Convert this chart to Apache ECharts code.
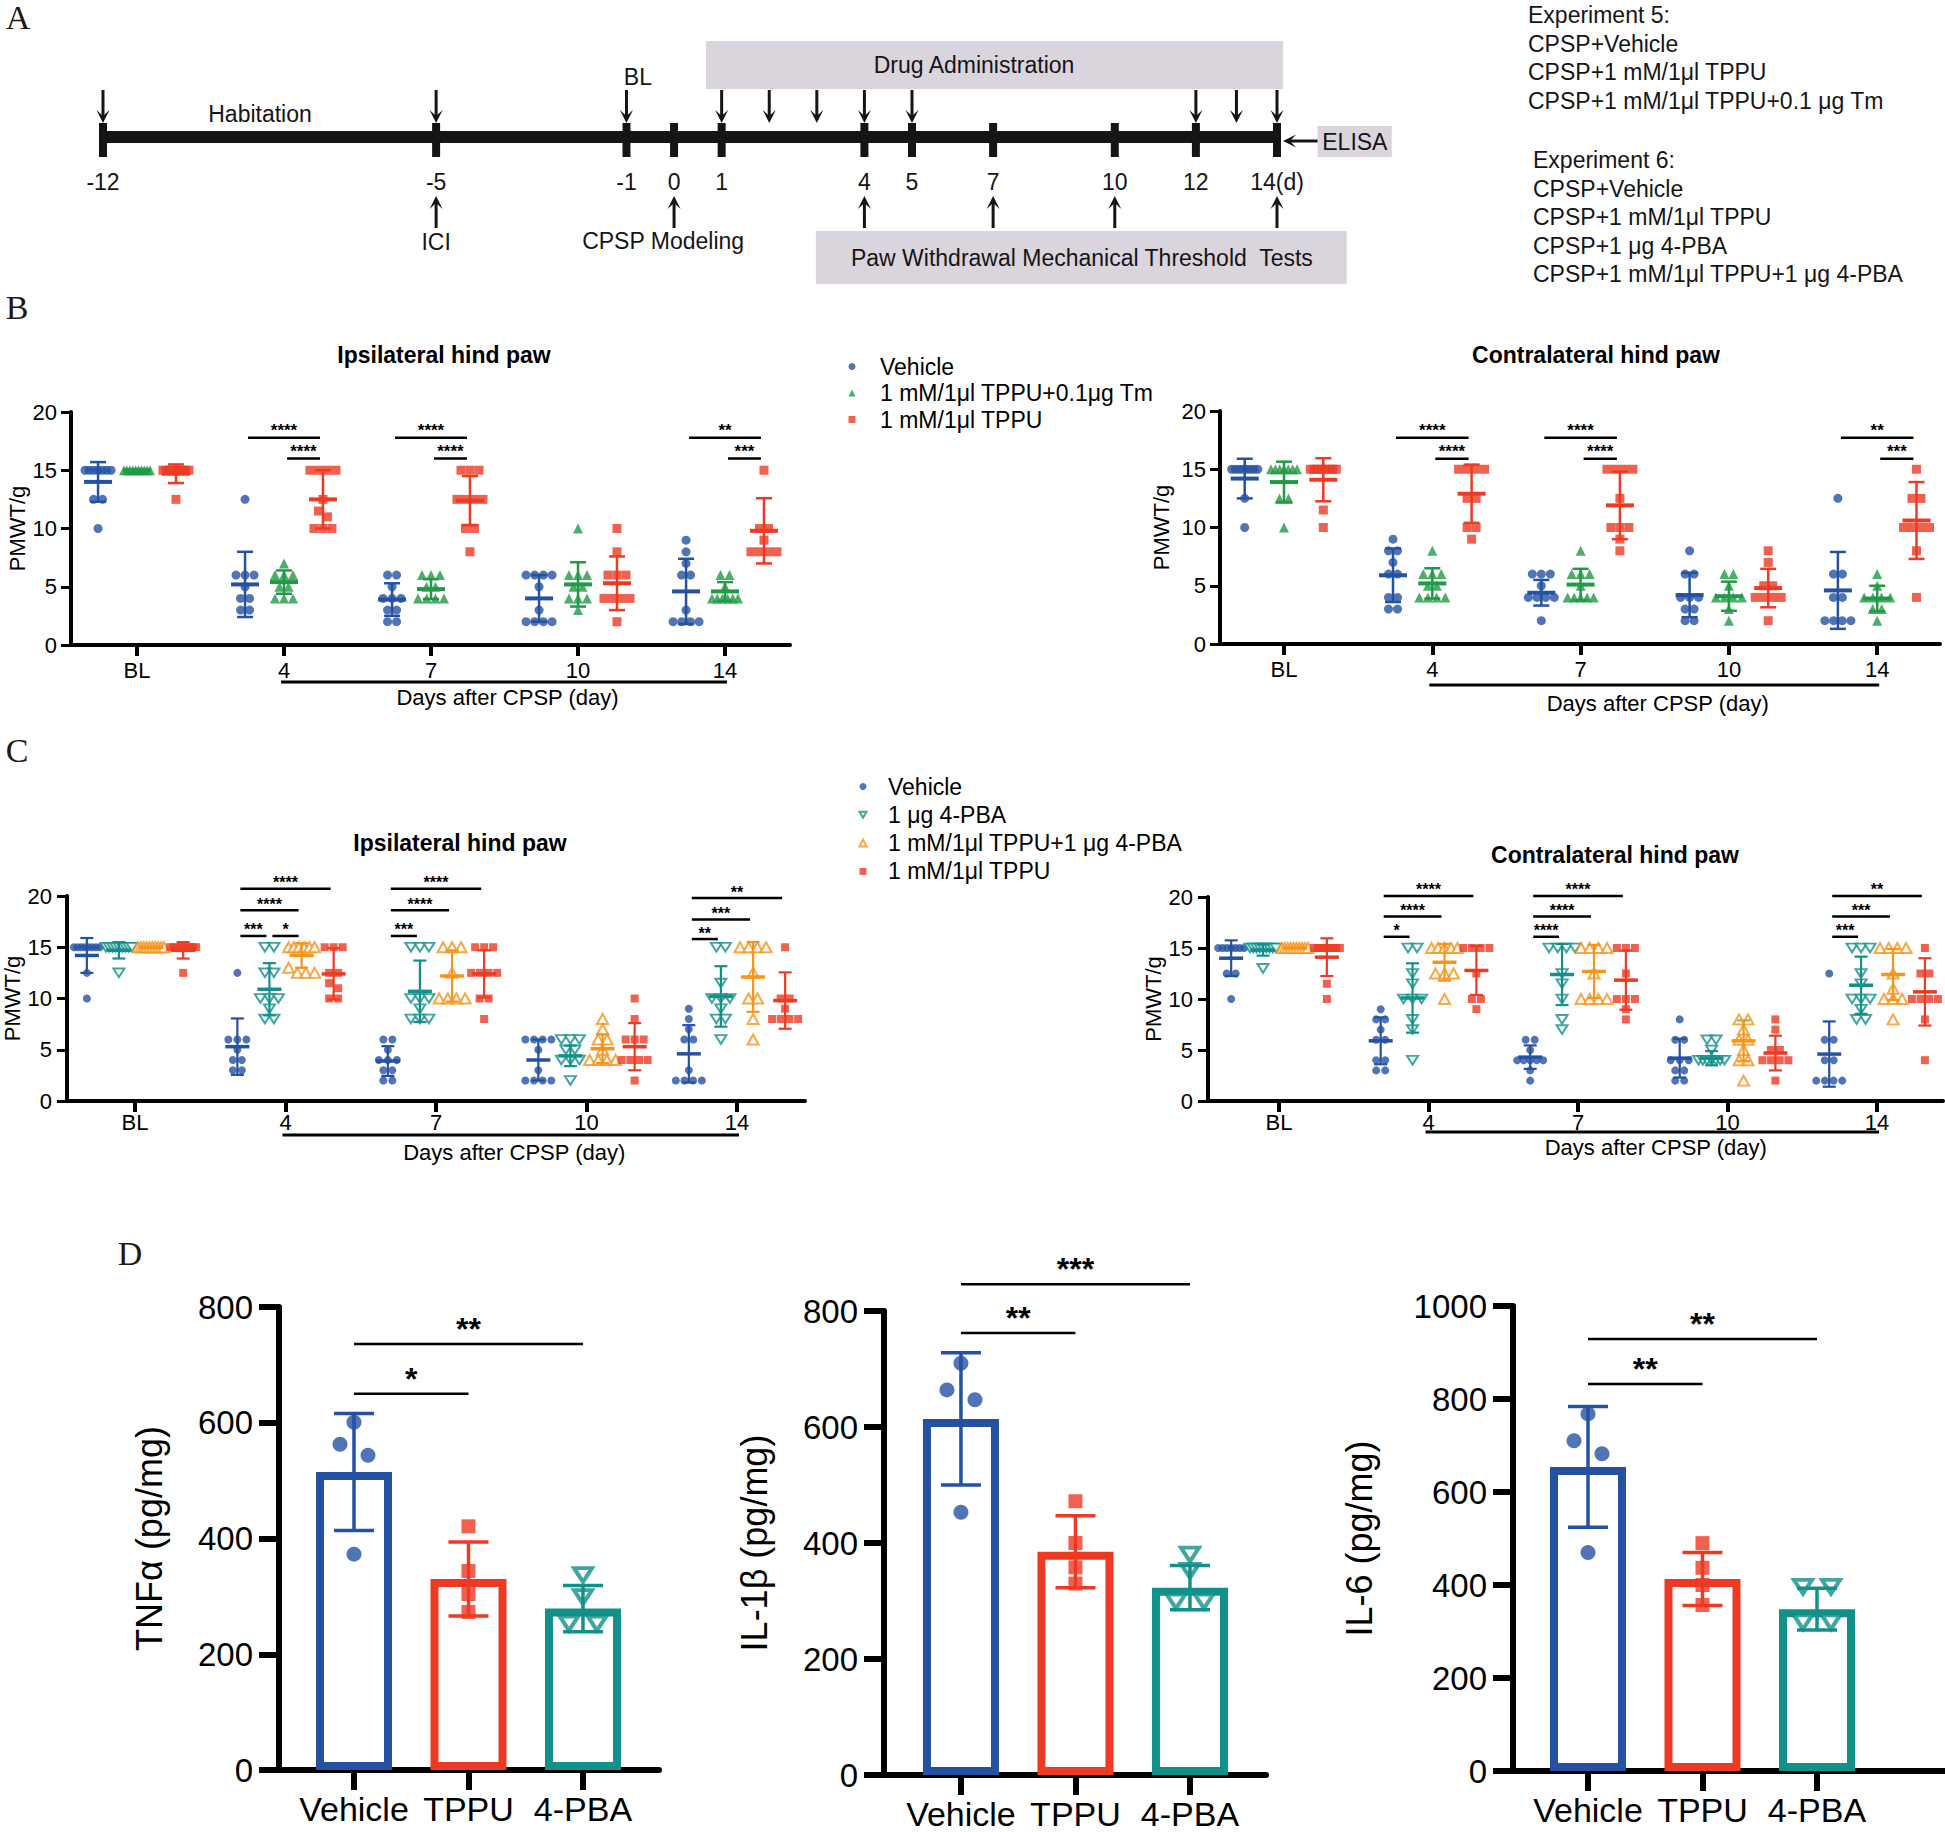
<!DOCTYPE html>
<html>
<head>
<meta charset="utf-8">
<title>CPSP figure</title>
<script src="https://cdn.jsdelivr.net/npm/echarts@6.0.0/dist/echarts.min.js"></script>
<style>
html,body{margin:0;padding:0;background:#fff;}
#chart{width:1945px;height:1832px;}
</style>
</head>
<body>
<div id="chart"></div>
<script>
// ======================= DATA =======================
// ---- Panel A : experimental timeline (days, drawn on a two-piece schematic scale) ----
const tlSegments      = [[-12, 5], [5, 14]];
const tlTickDays      = [-12, -5, -1, 0, 1, 4, 5, 7, 10, 12, 14];
const tlTickLabels    = ['-12', '-5', '-1', '0', '1', '4', '5', '7', '10', '12', '14(d)'];
const tlDownArrowDays = [-12, -5, -1, 1, 2, 3, 4, 5, 12, 13, 14];
const tlUpArrowDays   = [-5, 0, 4, 7, 10, 14];
const tlNoteText = ['Habitation', 'BL', 'ICI', 'CPSP Modeling'];
const tlNoteDay  = [-8.7, -0.76, -5, -0.23];
const tlBoxText    = ['Drug Administration', 'Paw Withdrawal Mechanical Threshold  Tests', 'ELISA'];
const tlBoxFrom    = [0.67, 2.98, 15.0];
const tlBoxTo      = [14.15, 15.72, 16.83];
const tlBoxTextDay = [6.53, 9.19, 15.92];
const tlElisaArrow = [15.0, 14.15];
const exp5Lines = ['Experiment 5:', 'CPSP+Vehicle', 'CPSP+1 mM/1μl TPPU', 'CPSP+1 mM/1μl TPPU+0.1 μg Tm'];
const exp6Lines = ['Experiment 6:', 'CPSP+Vehicle', 'CPSP+1 mM/1μl TPPU', 'CPSP+1 μg 4-PBA', 'CPSP+1 mM/1μl TPPU+1 μg 4-PBA'];

// ---- Panels B / C : PMWT (g) ----
const dayCats = ['BL', '4', '7', '10', '14'];
const daysSpanCats = ['4', '14'];
const daysAxisTitle = 'Days after CPSP (day)';
const pmwtName = 'PMWT/g';
const exp5Groups = ['Vehicle', '1 mM/1μl TPPU+0.1μg Tm', '1 mM/1μl TPPU'];
const exp6Groups = ['Vehicle', '1 μg 4-PBA', '1 mM/1μl TPPU+1 μg 4-PBA', '1 mM/1μl TPPU'];
const titleIpsi = 'Ipsilateral hind paw';
const titleContra = 'Contralateral hind paw';

// B – ipsilateral (experiment 5)
const bIpsiVeh = [[15,15,15,15,15,15,15,12.5,12.5,10],[12.5,6,6,6,5,4,4,3,3],[6,6,5,4,4,4,3,3,2,2],[6,6,6,6,5,3,2,2,2,2],[9,8,7,6,6,3,2,2,2,2]];
const bIpsiVehMean = [14.0, 5.2, 3.9, 4.0, 4.6];
const bIpsiVehSD   = [1.7, 2.8, 1.4, 2.0, 2.8];
const bIpsiTm = [[15,15,15,15,15,15,15,15,15,15],[7,6,6,6,5,5,4,4,4],[6,6,6,5,5,4,4,4,4],[10,6,6,6,5,5,4,4,4,3],[6,6,5,4,4,4,4,4,4]];
const bIpsiTmMean = [15.0, 5.4, 4.8, 5.2, 4.6];
const bIpsiTmSD   = [0, 1.0, 0.85, 1.9, 0.8];
const bIpsiTppu = [[15,15,15,15,15,15,15,15,15,12.5],[15,15,15,15,12.5,11.5,11,10,10,10],[15,15,15,12.5,12.5,12.5,12.5,10,10,8],[10,8,6,6,6,4,4,4,4,2],[15,10,10,9,8,8,8,8]];
const bIpsiTppuMean = [14.7, 12.5, 12.4, 5.3, 9.8];
const bIpsiTppuSD   = [0.8, 2.5, 2.1, 2.3, 2.8];
const bIpsiSig = [[1,0,2,17.8,'****'],[1,1,2,16.0,'****'],[2,0,2,17.8,'****'],[2,1,2,16.0,'****'],[4,0,2,17.8,'**'],[4,1,2,16.0,'***']];

// B – contralateral (experiment 5)
const bConVeh = [[15,15,15,15,15,15,15,15,12.5,10],[9,8,8,7,6,6,4,4,3,3],[6,6,6,5,4,4,4,4,2],[8,6,6,4,4,4,3,3,2,2],[12.5,6,6,4,4,2,2,2,2]];
const bConVehMean = [14.2, 5.9, 4.4, 4.2, 4.6];
const bConVehSD   = [1.7, 2.3, 1.1, 1.9, 3.3];
const bConTm = [[15,15,15,15,15,15,15,12.5,12.5,10],[8,6,6,6,5,5,4,4,4,4],[8,6,6,6,5,4,4,4,4,4],[6,6,5,4,4,4,4,3,2],[6,5,4,4,4,4,3,3,2]];
const bConTmMean = [13.9, 5.2, 5.1, 4.1, 3.9];
const bConTmSD   = [1.75, 1.3, 1.35, 1.25, 1.1];
const bConTppu = [[15,15,15,15,15,15,15,15,11.5,10],[15,15,15,15,12.5,12.5,10,10,9],[15,15,15,15,12.5,10,10,10,9,8],[8,7,5,5,4,4,4,4,2],[15,12.5,12.5,10,10,10,10,8,4]];
const bConTppuMean = [14.1, 12.9, 11.9, 4.8, 10.6];
const bConTppuSD   = [1.85, 2.5, 2.9, 1.65, 3.3];
const bConSig = [[1,0,2,17.7,'****'],[1,1,2,15.9,'****'],[2,0,2,17.7,'****'],[2,1,2,15.9,'****'],[4,0,2,17.7,'**'],[4,1,2,15.9,'***']];

// C – ipsilateral (experiment 6)
const cIpsiVeh = [[15,15,15,15,15,15,15,15,12.5,10],[12.5,6,6,6,5,4,4,3,3],[6,6,5,4,4,4,3,3,2,2],[6,6,6,6,5,3,2,2,2,2],[9,8,7,6,6,3,2,2,2,2]];
const cIpsiVehMean = [14.2, 5.3, 3.9, 4.0, 4.6];
const cIpsiVehSD   = [1.7, 2.75, 1.45, 2.0, 2.8];
const cIpsiPba = [[15,15,15,15,15,15,15,15,15,12.5],[15,15,12.5,12.5,10,10,10,9,8,8],[15,15,15,10,10,10,9,8,8,8],[6,6,6,5,5,4,4,4,2],[15,15,11.5,10,10,10,9,8,8,6]];
const cIpsiPbaMean = [14.7, 10.9, 10.7, 4.4, 10.2];
const cIpsiPbaSD   = [0.8, 2.55, 3.0, 1.0, 2.95];
const cIpsiCombo = [[15,15,15,15,15,15,15,15,15,15],[15,15,15,15,15,15,13,12.5,12.5,12.5],[15,15,15,12.5,10,10,10,10],[8,7,6,6,5,4,4,4,4],[15,15,15,15,12.5,10,10,8,6]];
const cIpsiComboMean = [15.0, 14.2, 12.2, 5.1, 12.1];
const cIpsiComboSD   = [0, 1.2, 2.5, 1.4, 3.4];
const cIpsiTppu = [[15,15,15,15,15,15,15,15,15,12.5],[15,15,15,12.5,12.5,11.5,11,10,10],[15,15,15,12.5,12.5,12.5,12.5,10,10,8],[10,8,6,6,6,4,4,4,4,2],[15,10,10,9,8,8,8,8]];
const cIpsiTppuMean = [14.7, 12.4, 12.4, 5.3, 9.8];
const cIpsiTppuSD   = [0.8, 2.5, 2.3, 2.3, 2.75];
const cIpsiSig = [[1,0,3,20.7,'****'],[1,0,2,18.6,'****'],[1,0,1,16.1,'***'],[1,1,2,16.1,'*'],[2,0,3,20.7,'****'],[2,0,2,18.6,'****'],[2,0,1,16.1,'***'],[4,0,3,19.8,'**'],[4,0,2,17.7,'***'],[4,0,1,15.8,'**']];

// C – contralateral (experiment 6)
const cConVeh = [[15,15,15,15,15,15,15,12.5,12.5,10],[9,8,8,7,6,6,4,4,3,3],[6,6,5,4,4,4,4,4,3,2],[8,6,6,4,4,4,3,3,2,2],[12.5,6,6,4,4,2,2,2,2]];
const cConVehMean = [14.0, 5.9, 4.3, 4.2, 4.6];
const cConVehSD   = [1.75, 2.3, 1.15, 1.9, 3.2];
const cConPba = [[15,15,15,15,15,15,15,15,15,13],[15,15,12.5,11.5,10,10,10,8,7,4],[15,15,15,15,12.5,11.5,10,8,7],[6,6,5,4,4,4,4,4,4,4],[15,15,15,12.5,11.5,10,10,10,9,8,8]];
const cConPbaMean = [14.8, 10.1, 12.4, 4.2, 11.35];
const cConPbaSD   = [0.55, 3.4, 3.0, 0.7, 2.8];
const cConCombo = [[15,15,15,15,15,15,15,15,15,15],[15,15,15,15,15,12.5,12.5,12.5,10],[15,15,15,15,12.5,10,10,10,10],[8,8,7,6,6,5,4,4,2],[15,15,15,15,12.5,11,10,10,10,8]];
const cConComboMean = [15.0, 13.6, 12.7, 5.9, 12.4];
const cConComboSD   = [0, 1.8, 2.6, 2.0, 2.5];
const cConTppu = [[15,15,15,15,15,15,15,15,11.5,10],[15,15,15,15,12.5,10,10,9],[15,15,15,12.5,10,10,10,9,8],[8,7,5,5,4,4,4,4,2],[15,12.5,12.5,10,10,10,10,8,4]];
const cConTppuMean = [14.1, 12.8, 11.85, 4.7, 10.7];
const cConTppuSD   = [1.85, 2.4, 2.9, 1.7, 3.3];
const cConSig = [[1,0,3,20.1,'****'],[1,0,2,18.1,'****'],[1,0,1,16.1,'*'],[2,0,3,20.1,'****'],[2,0,2,18.1,'****'],[2,0,1,16.1,'****'],[4,0,3,20.1,'**'],[4,0,2,18.1,'***'],[4,0,1,16.1,'***']];

// ---- Panel D : ELISA (pg/mg) ----
const dCats = ['Vehicle', 'TPPU', '4-PBA'];
const tnfName = 'TNFα (pg/mg)';
const tnfDots = [[601,563,544,373],[421,344,304,273],[337,299,253,253]];
const tnfMean = [515, 330, 279];
const tnfSD   = [101, 64, 40];
const tnfSig  = [[0,1,650,'*'],[0,2,736,'**']];
const il1bName = 'IL-1β (pg/mg)';
const il1bDots = [[710,664,647,453],[472,400,358,330],[380,352,299,299]];
const il1bMean = [614, 385, 323];
const il1bSD   = [114, 62, 38];
const il1bSig  = [[0,1,762,'**'],[0,2,846,'***']];
const il6Name = 'IL-6 (pg/mg)';
const il6Dots = [[768,710,682,470],[490,437,400,357],[396,396,320,320]];
const il6Mean = [654, 413, 348];
const il6SD   = [130, 57, 45];
const il6Sig  = [[0,1,832,'**'],[0,2,929,'**']];

// ======================= STYLE / LAYOUT =======================
const FONT = '"Liberation Sans", Arial, Helvetica, sans-serif';
const SERIF = '"Liberation Serif", "Times New Roman", serif';
const INK = '#151515';
const C_BLUE = '#2451a2', C_GREEN = '#1f9a45', C_RED = '#ee3a23', C_TEAL = '#12908a', C_ORANGE = '#f7941d';
const DOWN_TRI = 'path://M0,0L10,0L5,8.66Z';
const TL_SEG_GRIDS = [{left:103, top:37, width:809, height:200}, {left:912, top:37, width:365, height:200}];
const TL_NOTE_DY = [-23, -60, 105, 104];
const TL_BOX_LAYOUT = [{dy:-96, h:48}, {dy:94, h:53}, {dy:-11, h:31}];
const CAT_IDX = dayCats.map((c, i) => i);

const SYM5 = [
  {symbol:'circle', size:9, itemStyle:{color:C_BLUE}},
  {symbol:'triangle', size:10, itemStyle:{color:C_GREEN}},
  {symbol:'rect', size:9, itemStyle:{color:C_RED}}
];
const SYM6 = [
  {symbol:'circle', size:8, itemStyle:{color:C_BLUE}},
  {symbol:DOWN_TRI, size:[11,10], itemStyle:{color:'#fff', borderColor:C_TEAL, borderWidth:2}},
  {symbol:'triangle', size:[11,10], itemStyle:{color:'#fff', borderColor:C_ORANGE, borderWidth:2}},
  {symbol:'rect', size:8, itemStyle:{color:C_RED}}
];
const D_COLORS = [C_BLUE, C_RED, C_TEAL];
const D_SYM = [
  {symbol:'circle', size:15, itemStyle:{color:C_BLUE}},
  {symbol:'rect', size:14, itemStyle:{color:C_RED}},
  {symbol:DOWN_TRI, size:[18,16], itemStyle:{color:'#fff', borderColor:C_TEAL, borderWidth:4}}
];

// ======================= HELPERS =======================
function T(text, x, y, font, fill, align, va) {
  return {type:'text', silent:true, style:{text:text, x:x, y:y, font:font, fill:fill,
    align:align || 'left', verticalAlign:va || 'middle', textAlign:align || 'left', textVerticalAlign:va || 'middle'}};
}
function arrowEls(x1, y1, x2, y2, c) {
  const dx = x2 - x1, dy = y2 - y1, len = Math.hypot(dx, dy) || 1;
  const ux = dx / len, uy = dy / len, px = -uy, py = ux;
  const hl = 13, hw = 6.5, nt = 7;
  return [
    {type:'line', shape:{x1:x1, y1:y1, x2:x2 - ux * nt, y2:y2 - uy * nt}, style:{stroke:c, lineWidth:3}},
    {type:'polygon', shape:{points:[[x2, y2], [x2 - ux * hl + px * hw, y2 - uy * hl + py * hw], [x2 - ux * nt, y2 - uy * nt], [x2 - ux * hl - px * hw, y2 - uy * hl - py * hw]]}, style:{fill:c}}
  ];
}
// spread points with (nearly) equal values sideways, like a column scatter plot
function swarm(values, center, yPpu, xPpu, tolPx, stepPx, maxWPx) {
  const s = values.slice().sort((a, b) => b - a);
  const out = [];
  let i = 0;
  while (i < s.length) {
    let j = i + 1;
    while (j < s.length && (s[j - 1] - s[j]) * yPpu < tolPx) j++;
    const k = j - i;
    const st = k > 1 ? Math.min(stepPx, maxWPx / (k - 1)) : 0;
    for (let t = 0; t < k; t++) out.push([center + ((t - (k - 1) / 2) * st) / xPpu, s[i + t]]);
    i = j;
  }
  return out;
}

const grids = [], xAxes = [], yAxes = [], series = [], graphics = [];

function meanSdSeries(gi, data, colors, o) {
  return {type:'custom', xAxisIndex:gi, yAxisIndex:gi, clip:false, silent:true, z:4, data:data,
    encode:{x:0, y:1},
    renderItem:function (params, api) {
      const x = api.value(0), m = api.value(1), s = api.value(2), c = colors[api.value(3)];
      const pm = api.coord([x, m]), pt = api.coord([x, m + s]), pb = api.coord([x, m - s]);
      const ch = [];
      if (s > 0) {
        ch.push({type:'line', shape:{x1:pm[0], y1:pt[1], x2:pm[0], y2:pb[1]}, style:{stroke:c, lineWidth:o.lw}});
        ch.push({type:'line', shape:{x1:pm[0] - o.cap / 2, y1:pt[1], x2:pm[0] + o.cap / 2, y2:pt[1]}, style:{stroke:c, lineWidth:o.lw}});
        ch.push({type:'line', shape:{x1:pm[0] - o.cap / 2, y1:pb[1], x2:pm[0] + o.cap / 2, y2:pb[1]}, style:{stroke:c, lineWidth:o.lw}});
      }
      if (o.meanW) ch.push({type:'line', shape:{x1:pm[0] - o.meanW / 2, y1:pm[1], x2:pm[0] + o.meanW / 2, y2:pm[1]}, style:{stroke:c, lineWidth:o.meanLw}});
      return {type:'group', children:ch};
    }};
}
function sigSeries(gi, list, xOf, fontPx, labelDy, lw, inset) {
  return {type:'custom', xAxisIndex:gi, yAxisIndex:gi, clip:false, silent:true, z:5,
    data:list.map((s) => [xOf(s, 0), s[s.length - 2]]),
    encode:{x:0, y:1},
    renderItem:function (params, api) {
      const s = list[params.dataIndex];
      const y = s[s.length - 2];
      const p1 = api.coord([xOf(s, 0), y]), p2 = api.coord([xOf(s, 1), y]);
      return {type:'group', children:[
        {type:'line', shape:{x1:p1[0] + inset, y1:p1[1], x2:p2[0] - inset, y2:p2[1]}, style:{stroke:'#000', lineWidth:lw}},
        T(s[s.length - 1], (p1[0] + p2[0]) / 2, p1[1] - labelDy, 'bold ' + fontPx + 'px ' + FONT, '#000', 'center')
      ]};
    }};
}
function daysBracketSeries(gi, L) {
  const a0 = dayCats.indexOf(daysSpanCats[0]), a1 = dayCats.indexOf(daysSpanCats[1]);
  return {type:'custom', xAxisIndex:gi, yAxisIndex:gi, clip:false, silent:true, data:[[a0, 0]],
    encode:{x:0, y:1},
    renderItem:function (params, api) {
      const a = api.coord([a0, 0]), b = api.coord([a1, 0]);
      return {type:'group', children:[
        {type:'line', shape:{x1:a[0] - 3, y1:a[1] + L.line, x2:b[0] + 2, y2:a[1] + L.line}, style:{stroke:'#000', lineWidth:3}},
        T(daysAxisTitle, (a[0] + b[0]) / 2 + 3, a[1] + L.text, '22px ' + FONT, '#000', 'center')
      ]};
    }};
}

function dotPanel(P) {
  const gi = grids.length;
  grids.push(P.grid);
  xAxes.push({gridIndex:gi, type:'value', min:P.xMin, max:P.xMax,
    axisLine:{show:true, onZero:false, lineStyle:{color:'#000', width:4}},
    axisTick:{show:true, customValues:CAT_IDX, length:11, lineStyle:{color:'#000', width:4}},
    axisLabel:{show:true, customValues:CAT_IDX, formatter:(v) => dayCats[Math.round(v)], color:'#000', fontSize:22, fontFamily:FONT, margin:P.xLabelMargin},
    splitLine:{show:false}});
  yAxes.push({gridIndex:gi, type:'value', min:0, max:20, interval:5,
    axisLine:{show:true, onZero:false, lineStyle:{color:'#000', width:4}},
    axisTick:{show:true, length:10, lineStyle:{color:'#000', width:3}},
    axisLabel:{color:'#000', fontSize:22, fontFamily:FONT, margin:P.yLabelMargin},
    splitLine:{show:false},
    name:pmwtName, nameLocation:'middle', nameGap:P.nameGap, nameTextStyle:{color:'#000', fontSize:22, fontFamily:FONT}});
  const xPpu = P.grid.width / (P.xMax - P.xMin), yPpu = P.grid.height / 20;
  const ms = [];
  P.values.forEach((groupVals, k) => {
    const sym = P.sym[k];
    const pts = [];
    groupVals.forEach((vals, c) => {
      pts.push(...swarm(vals, c + P.offsets[k], yPpu, xPpu, P.sw.tol, P.sw.step, P.sw.maxW));
      ms.push([c + P.offsets[k], P.means[k][c], P.sds[k][c], k]);
    });
    series.push({type:'scatter', name:P.names[k], xAxisIndex:gi, yAxisIndex:gi, data:pts,
      symbol:sym.symbol, symbolSize:sym.size, symbolKeepAspect:true, itemStyle:sym.itemStyle, z:2, silent:true});
  });
  series.push(meanSdSeries(gi, ms, P.colors, P.ms));
  series.push(sigSeries(gi, P.sig, (s, e) => s[0] + P.offsets[s[1 + e]], P.sigFont, P.sigDy, 2.5, 3));
  series.push(daysBracketSeries(gi, P.days));
  graphics.push(T(P.title, P.titlePos[0], P.titlePos[1], 'bold 23px ' + FONT, '#000', 'center'));
}

function barPanel(P) {
  const gi = grids.length;
  grids.push(P.grid);
  xAxes.push({gridIndex:gi, type:'value', min:P.xMin, max:P.xMax,
    axisLine:{show:true, onZero:false, lineStyle:{color:'#000', width:6}},
    axisTick:{show:true, customValues:[0, 1, 2], length:20, lineStyle:{color:'#000', width:6}},
    axisLabel:{show:true, customValues:[0, 1, 2], formatter:(v) => dCats[Math.round(v)], color:'#000', fontSize:34, fontFamily:FONT, margin:22},
    splitLine:{show:false}});
  yAxes.push({gridIndex:gi, type:'value', min:0, max:P.yMax, interval:P.yStep,
    axisLine:{show:true, onZero:false, lineStyle:{color:'#000', width:6}},
    axisTick:{show:true, length:20, lineStyle:{color:'#000', width:6}},
    axisLabel:{color:'#000', fontSize:33, fontFamily:FONT, margin:26, formatter:(v) => String(v)},
    splitLine:{show:false},
    name:P.yName, nameLocation:'middle', nameGap:P.nameGap, nameTextStyle:{color:'#000', fontSize:36, fontFamily:FONT}});
  const xPpu = P.grid.width / (P.xMax - P.xMin), yPpu = P.grid.height / P.yMax;
  series.push({type:'bar', xAxisIndex:gi, yAxisIndex:gi, barWidth:76, silent:true, z:2,
    data:P.mean.map((m, i) => ({value:[i, m], itemStyle:{color:'#fff', borderColor:D_COLORS[i], borderWidth:8}}))});
  P.dots.forEach((vals, i) => {
    series.push({type:'scatter', xAxisIndex:gi, yAxisIndex:gi, silent:true, z:3,
      data:swarm(vals, i, yPpu, xPpu, 15, 28, 28), symbol:D_SYM[i].symbol, symbolSize:D_SYM[i].size,
      symbolKeepAspect:true, itemStyle:D_SYM[i].itemStyle});
  });
  series.push(meanSdSeries(gi, P.mean.map((m, i) => [i, m, P.sd[i], i]), D_COLORS, {lw:3.5, cap:40, meanW:0}));
  series.push(sigSeries(gi, P.sig, (s, e) => s[e], 32, 15, 2.5, 0));
}

// ======================= PANEL A =======================
function tlRenderer(s, layer) {
  const first = s === 0, last = s === tlSegments.length - 1;
  const lo = first ? -Infinity : tlSegments[s][0], hi = last ? Infinity : tlSegments[s][1];
  const inSeg = (d) => d >= lo && d < hi;
  return function (params, api) {
    const X = (d) => api.coord([d, 0])[0];
    const y0 = api.coord([0, 0])[1];
    const F = '23px ' + FONT;
    const ch = [];
    const span = (f, e, y, h, fill) => {
      const a = Math.max(f, lo), b = Math.min(e, hi);
      if (b <= a) return;
      const xa = X(a) - (a === lo ? 0.6 : 0), xb = X(b) + (b === hi ? 0.6 : 0);
      ch.push({type:'rect', shape:{x:xa, y:y, width:xb - xa, height:h}, style:{fill:fill}});
    };
    if (layer === 0) {
      tlBoxText.forEach((t, i) => {
        const L = TL_BOX_LAYOUT[i];
        span(tlBoxFrom[i], tlBoxTo[i], y0 + L.dy, L.h, '#dad4dd');
        if (inSeg(tlBoxTextDay[i])) ch.push(T(t, X(tlBoxTextDay[i]), y0 + L.dy + L.h / 2, F, INK, 'center'));
      });
      return {type:'group', children:ch};
    }
    span(tlTickDays[0], tlTickDays[tlTickDays.length - 1], y0 - 6, 12, INK);
    tlTickDays.forEach((d, i) => {
      if (!inSeg(d)) return;
      ch.push({type:'rect', shape:{x:X(d) - 4, y:y0 - 14, width:8, height:34}, style:{fill:INK}});
      ch.push(T(tlTickLabels[i], X(d), y0 + 45, F, INK, 'center'));
    });
    tlDownArrowDays.forEach((d) => { if (inSeg(d)) ch.push(...arrowEls(X(d), y0 - 47, X(d), y0 - 14, INK)); });
    tlUpArrowDays.forEach((d) => { if (inSeg(d)) ch.push(...arrowEls(X(d), y0 + 91, X(d), y0 + 59, INK)); });
    tlNoteText.forEach((t, i) => { if (inSeg(tlNoteDay[i])) ch.push(T(t, X(tlNoteDay[i]), y0 + TL_NOTE_DY[i], F, INK, 'center')); });
    if (inSeg(tlElisaArrow[0])) ch.push(...arrowEls(X(tlElisaArrow[0]), y0 + 4, X(tlElisaArrow[1]), y0 + 4, INK));
    return {type:'group', children:ch};
  };
}
tlSegments.forEach((seg, s) => {
  grids.push(TL_SEG_GRIDS[s]);
  xAxes.push({gridIndex:s, type:'value', min:seg[0], max:seg[1], show:false});
  yAxes.push({gridIndex:s, type:'value', min:-1, max:1, show:false});
});
[0, 1].forEach((layer) => tlSegments.forEach((seg, s) => series.push({
  type:'custom', xAxisIndex:s, yAxisIndex:s, clip:false, silent:true, z:layer + 1,
  data:[[seg[0], 0]], encode:{x:0, y:1}, renderItem:tlRenderer(s, layer)})));
exp5Lines.forEach((t, i) => graphics.push(T(t, 1528, 15 + i * 28.5, '23px ' + FONT, INK, 'left')));
exp6Lines.forEach((t, i) => graphics.push(T(t, 1533, 160 + i * 28.5, '23px ' + FONT, INK, 'left')));

// ======================= PANELS B & C =======================
const B_OFF = [-0.265, 0, 0.265];
const C_OFF = [-0.32, -0.107, 0.107, 0.32];
dotPanel({grid:{left:71, top:412, width:719, height:233}, xMin:-0.449, xMax:4.442, offsets:B_OFF,
  names:exp5Groups, sym:SYM5, colors:[C_BLUE, C_GREEN, C_RED],
  values:[bIpsiVeh, bIpsiTm, bIpsiTppu], means:[bIpsiVehMean, bIpsiTmMean, bIpsiTppuMean], sds:[bIpsiVehSD, bIpsiTmSD, bIpsiTppuSD],
  sig:bIpsiSig, nameGap:40, xLabelMargin:14, yLabelMargin:14, sw:{tol:6.5, step:9, maxW:26},
  ms:{lw:2.5, cap:16, meanW:28, meanLw:4}, sigFont:17, sigDy:7, days:{line:37, text:52},
  title:titleIpsi, titlePos:[444, 355]});
dotPanel({grid:{left:1220, top:411, width:720, height:233}, xMin:-0.4316, xMax:4.4235, offsets:B_OFF,
  names:exp5Groups, sym:SYM5, colors:[C_BLUE, C_GREEN, C_RED],
  values:[bConVeh, bConTm, bConTppu], means:[bConVehMean, bConTmMean, bConTppuMean], sds:[bConVehSD, bConTmSD, bConTppuSD],
  sig:bConSig, nameGap:48, xLabelMargin:14, yLabelMargin:14, sw:{tol:6.5, step:9, maxW:26},
  ms:{lw:2.5, cap:16, meanW:28, meanLw:4}, sigFont:17, sigDy:7, days:{line:41, text:59},
  title:titleContra, titlePos:[1596, 355]});
dotPanel({grid:{left:67, top:896, width:738, height:205}, xMin:-0.452, xMax:4.452, offsets:C_OFF,
  names:exp6Groups, sym:SYM6, colors:[C_BLUE, C_TEAL, C_ORANGE, C_RED],
  values:[cIpsiVeh, cIpsiPba, cIpsiCombo, cIpsiTppu], means:[cIpsiVehMean, cIpsiPbaMean, cIpsiComboMean, cIpsiTppuMean], sds:[cIpsiVehSD, cIpsiPbaSD, cIpsiComboSD, cIpsiTppuSD],
  sig:cIpsiSig, nameGap:44, xLabelMargin:10, yLabelMargin:15, sw:{tol:6, step:9, maxW:26},
  ms:{lw:2.2, cap:13, meanW:24, meanLw:3.5}, sigFont:16, sigDy:6, days:{line:34, text:51},
  title:titleIpsi, titlePos:[460, 843]});
dotPanel({grid:{left:1208, top:897, width:735, height:204}, xMin:-0.475, xMax:4.441, offsets:C_OFF,
  names:exp6Groups, sym:SYM6, colors:[C_BLUE, C_TEAL, C_ORANGE, C_RED],
  values:[cConVeh, cConPba, cConCombo, cConTppu], means:[cConVehMean, cConPbaMean, cConComboMean, cConTppuMean], sds:[cConVehSD, cConPbaSD, cConComboSD, cConTppuSD],
  sig:cConSig, nameGap:30, xLabelMargin:10, yLabelMargin:15, sw:{tol:6, step:9, maxW:26},
  ms:{lw:2.2, cap:13, meanW:24, meanLw:3.5}, sigFont:16, sigDy:6, days:{line:31, text:46},
  title:titleContra, titlePos:[1615, 855]});

// ======================= PANEL D =======================
barPanel({grid:{left:279, top:1307, width:380, height:463}, xMin:-0.655, xMax:2.664, yMax:800, yStep:200,
  yName:tnfName, nameGap:112, dots:tnfDots, mean:tnfMean, sd:tnfSD, sig:tnfSig});
barPanel({grid:{left:884, top:1311, width:382, height:464}, xMin:-0.672, xMax:2.664, yMax:800, yStep:200,
  yName:il1bName, nameGap:112, dots:il1bDots, mean:il1bMean, sd:il1bSD, sig:il1bSig});
barPanel({grid:{left:1513, top:1306, width:432, height:465}, xMin:-0.655, xMax:3.118, yMax:1000, yStep:200,
  yName:il6Name, nameGap:136, dots:il6Dots, mean:il6Mean, sd:il6SD, sig:il6Sig});

// ======================= LETTERS =======================
[['A', 18, 17], ['B', 17, 307], ['C', 17, 750], ['D', 130, 1253]].forEach((l) =>
  graphics.push(T(l[0], l[1], l[2], '34px ' + SERIF, '#231815', 'center')));

// ======================= LEGENDS =======================
const LEG5_ICONS = ['circle', 'triangle', 'rect'];
const LEG6_ICONS = ['circle', DOWN_TRI, 'triangle', 'rect'];
const legends = [
  {data:exp5Groups.map((n, i) => ({name:n, icon:LEG5_ICONS[i]})), orient:'vertical', left:848.5, top:355, padding:0,
    itemWidth:7, itemHeight:7, itemGap:3.5, selectedMode:false,
    textStyle:{color:'#000', fontSize:23, fontFamily:FONT, padding:[0, 0, 0, 19.5]}},
  {data:exp6Groups.map((n, i) => ({name:n, icon:LEG6_ICONS[i]})), orient:'vertical', left:858.5, top:775, padding:0,
    itemWidth:7, itemHeight:7, itemGap:5.3, selectedMode:false,
    textStyle:{color:'#000', fontSize:23, fontFamily:FONT, padding:[0, 0, 0, 16.5]}}
];

const chart = echarts.init(document.getElementById('chart'), null, {renderer:'svg', width:1945, height:1832});
chart.setOption({
  animation:false,
  backgroundColor:'#fff',
  textStyle:{fontFamily:FONT},
  grid:grids, xAxis:xAxes, yAxis:yAxes, series:series, legend:legends, graphic:graphics
});
</script>
</body>
</html>
